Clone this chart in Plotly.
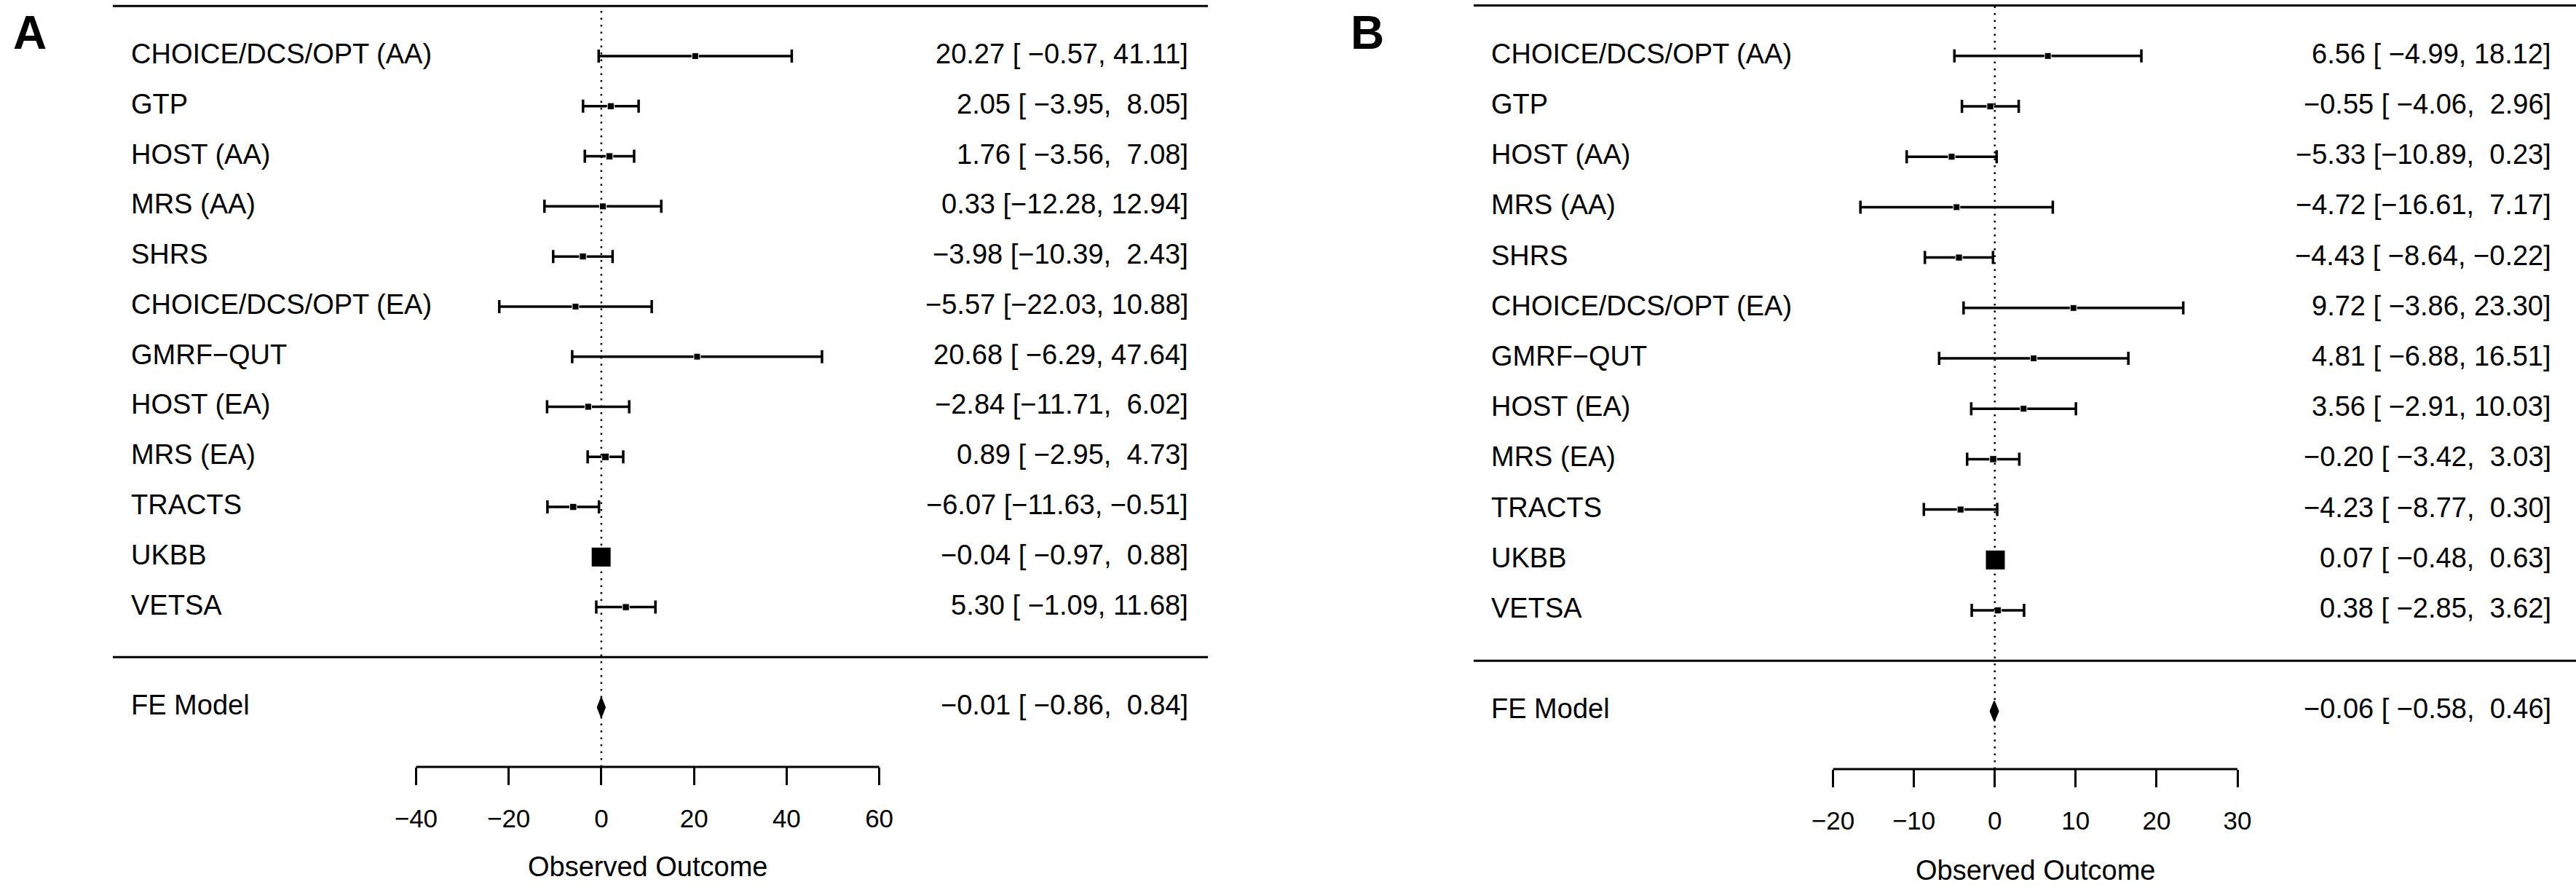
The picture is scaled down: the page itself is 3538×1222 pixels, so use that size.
import numpy as np
import plotly.graph_objects as go

# studies, top to bottom
studies = ["CHOICE/DCS/OPT (AA)", "GTP", "HOST (AA)", "MRS (AA)", "SHRS",
           "CHOICE/DCS/OPT (EA)", "GMRF\u2212QUT", "HOST (EA)", "MRS (EA)",
           "TRACTS", "UKBB", "VETSA"]

# panel A
est_a = [20.27, 2.05, 1.76, 0.33, -3.98, -5.57, 20.68, -2.84, 0.89, -6.07, -0.04, 5.30]
lo_a = [-0.57, -3.95, -3.56, -12.28, -10.39, -22.03, -6.29, -11.71, -2.95, -11.63, -0.97, -1.09]
hi_a = [41.11, 8.05, 7.08, 12.94, 2.43, 10.88, 47.64, 6.02, 4.73, -0.51, 0.88, 11.68]
fe_a = [-0.01, -0.86, 0.84]
ticks_a = [-40, -20, 0, 20, 40, 60]

# panel B
est_b = [6.56, -0.55, -5.33, -4.72, -4.43, 9.72, 4.81, 3.56, -0.20, -4.23, 0.07, 0.38]
lo_b = [-4.99, -4.06, -10.89, -16.61, -8.64, -3.86, -6.88, -2.91, -3.42, -8.77, -0.48, -2.85]
hi_b = [18.12, 2.96, 0.23, 7.17, -0.22, 23.30, 16.51, 10.03, 3.03, 0.30, 0.63, 3.62]
fe_b = [-0.06, -0.58, 0.46]
ticks_b = [-20, -10, 0, 10, 20, 30]

FONT = "Liberation Sans"
W, H = 3538, 1222
k = len(studies)
rows = list(range(k, 0, -1))      # metafor style: top study at y = k


def col(vals):
    s = [f"{v:.2f}" for v in vals]
    w = max(len(x) for x in s)
    return [x.rjust(w) for x in s]


def annot_text(est, lo, hi, fe):
    e = col(est + [fe[0]])
    l = col(lo + [fe[1]])
    h = col(hi + [fe[2]])
    out = [f"{a} [{b}, {c}]" for a, b, c in zip(e, l, h)]
    return [t.strip().replace("-", "\u2212").replace(" ", "\u00a0") for t in out]


def psize(lo, hi):
    # metafor default: point size scaled by inverse-variance weight
    se = (np.array(hi) - np.array(lo)) / (2 * 1.96)
    wi = 1 / se ** 2
    return 0.5 + (wi - wi.min()) / (wi.max() - wi.min())


fig = go.Figure()
# axis ids, data, ticks, letter, letter x, label shift, text shift, axis bottom px, y range, title px
panels = [
    ("x", "y", est_a, lo_a, hi_a, fe_a, ticks_a, "A", 16, 23, -25, 1053, [-2.19, 13.12], 1190),
    ("x2", "y2", est_b, lo_b, hi_b, fe_b, ticks_b, "B", 1853, 22, -32, 1056, [-2.15, 13.11], 1195),
]

for xa, ya, est, lo, hi, fe, ticks, letter, lx, lshift, rshift, _, yr, ty in panels:
    xd = xa + " domain"
    yd = ya + " domain"
    sizes = psize(lo, hi) * 18
    fig.add_trace(go.Scatter(
        x=est, y=rows, mode="markers", xaxis=xa, yaxis=ya,
        marker=dict(symbol="square", size=sizes, color="black", opacity=1),
        error_x=dict(type="data", symmetric=False,
                     array=[h - e for h, e in zip(hi, est)],
                     arrayminus=[e - l for e, l in zip(est, lo)],
                     color="black", thickness=3.5, width=9),
        hoverinfo="skip"))
    # summary diamond
    hgt = 0.2
    fig.add_trace(go.Scatter(
        x=[fe[1], fe[0], fe[2], fe[0], fe[1]],
        y=[-1, -1 + hgt, -1, -1 - hgt, -1],
        mode="lines", fill="toself", fillcolor="black",
        line=dict(color="black", width=1.5), xaxis=xa, yaxis=ya,
        hoverinfo="skip"))

    # horizontal rules
    for yy in [k + 1, 0]:
        fig.add_shape(type="line", xref=xd, yref=ya, x0=0, x1=1, y0=yy, y1=yy,
                      line=dict(color="black", width=3))
    # reference line
    fig.add_shape(type="line", xref=xa, yref=ya, x0=0, x1=0, y0=yr[0], y1=k + 1,
                  line=dict(color="black", width=2.5, dash="2.5px,7px"))
    # axis line only over tick range
    fig.add_shape(type="line", xref=xa, yref=yd, x0=ticks[0], x1=ticks[-1], y0=0, y1=0,
                  line=dict(color="black", width=3))

    texts = annot_text(est, lo, hi, fe)
    for lab, txt, yy in zip(studies + ["FE Model"], texts, rows + [-1]):
        fig.add_annotation(text=lab, xref=xd, x=0, xanchor="left", xshift=lshift,
                           yref=ya, y=yy, yanchor="middle", yshift=3, showarrow=False,
                           font=dict(family=FONT, size=38, color="black"))
        fig.add_annotation(text=txt, xref=xd, x=1, xanchor="right", xshift=rshift,
                           yref=ya, y=yy, yanchor="middle", yshift=3, showarrow=False,
                           font=dict(family=FONT, size=38, color="black"))
    fig.add_annotation(text="Observed Outcome", xref=xa, x=np.mean(ticks),
                       yref="paper", y=1 - ty / H, yanchor="middle", showarrow=False,
                       font=dict(family=FONT, size=38, color="black"))
    fig.add_annotation(text=f"<b>{letter}</b>", xref="paper", x=lx / W, xanchor="left",
                       yref="paper", y=1 - 45 / H, yanchor="middle", showarrow=False,
                       font=dict(family=FONT, size=64, color="black"))

axis_common = dict(showgrid=False, zeroline=False, showline=False, ticks="outside",
                   ticklen=24, tickwidth=3, tickcolor="black", fixedrange=True,
                   tickfont=dict(family=FONT, size=35, color="black"),
                   ticklabelstandoff=16)

pa, pb = panels
fig.update_layout(
    width=W, height=H, margin=dict(l=0, r=0, t=0, b=0),
    paper_bgcolor="white", plot_bgcolor="white", showlegend=False,
    xaxis=dict(axis_common, anchor="y", domain=[155 / W, 1659 / W],
               range=[-105.45, 130.95], tickvals=ticks_a),
    xaxis2=dict(axis_common, anchor="y2", domain=[2024 / W, 1.0],
                range=[-64.42, 71.85], tickvals=ticks_b),
    yaxis=dict(visible=False, range=pa[12], domain=[1 - pa[11] / H, 1],
               fixedrange=True, anchor="x"),
    yaxis2=dict(visible=False, range=pb[12], domain=[1 - pb[11] / H, 1],
                fixedrange=True, anchor="x2"),
)

fig.write_html("out.html", config={"displayModeBar": False},
               post_script="document.body.style.margin='0';")
